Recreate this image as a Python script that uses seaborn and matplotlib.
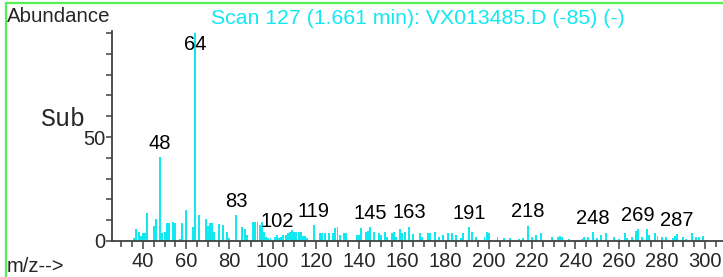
import matplotlib
matplotlib.use("Agg")
import matplotlib.pyplot as plt
from matplotlib.lines import Line2D
from matplotlib.ticker import MultipleLocator, FixedLocator
import seaborn as sns

# mass spectrum (m/z, relative abundance)
mz = [36, 37, 38, 39, 40, 41, 42, 45, 46, 48, 49, 50, 51, 52, 54, 55, 57, 58,
      60, 63, 64, 66, 69, 70, 71, 72, 73, 75, 77, 79, 80, 83, 86, 87, 88,
      91, 92, 93, 94, 95, 96, 97, 98, 99, 101, 102, 103, 104, 105, 106, 107,
      108, 109, 110, 111, 112, 113, 114, 115, 116, 119, 122, 123, 124, 126,
      128, 129, 130, 131, 133, 134, 139, 140, 141, 143, 144, 145, 147, 149,
      150, 152, 153, 155, 156, 157, 159, 160, 161, 163, 165, 168, 169, 172,
      173, 175, 177, 179, 181, 183, 185, 187, 188, 191, 192, 194, 198, 199,
      200, 204, 207, 210, 214, 216, 218, 220, 222, 224, 227, 229, 232, 233,
      234, 237, 241, 243, 244, 246, 248, 250, 252, 254, 258, 260, 263, 264,
      266, 268, 269, 271, 273, 274, 277, 278, 280, 282, 285, 286, 287, 290,
      291, 294, 296, 297, 299]
abundance = [1.3, 5.6, 4.4, 2.4, 3.7, 3.7, 13.7, 7.4, 10.5, 40.2, 3.9, 4.4, 8.8,
             8.6, 9.0, 8.8, 0.8, 8.8, 14.9, 6.9, 100.0, 12.5, 10.5, 7.0, 8.8,
             8.8, 4.3, 8.2, 7.5, 4.5, 1.3, 12.5, 6.8, 5.6, 3.0, 9.3, 9.3, 9.3,
             7.7, 9.3, 4.5, 2.1, 1.3, 1.3, 2.0, 2.9, 1.3, 2.0, 2.9, 2.9, 3.7,
             4.5, 5.3, 4.5, 4.5, 4.2, 4.5, 2.4, 2.4, 1.5, 7.7, 3.7, 3.7, 3.7,
             4.0, 4.0, 6.1, 6.7, 2.9, 4.0, 4.0, 2.9, 2.9, 6.1, 4.5, 5.0, 6.6,
             4.5, 4.0, 2.9, 4.5, 2.1, 3.7, 4.5, 2.1, 5.6, 3.7, 4.5, 6.9, 3.4,
             3.7, 2.1, 3.7, 3.7, 4.2, 2.1, 2.9, 3.7, 4.0, 2.9, 1.3, 3.7, 6.6,
             4.5, 2.1, 2.1, 4.5, 3.7, 2.1, 1.3, 1.3, 1.0, 1.3, 7.4, 1.8, 2.9,
             3.7, 0.5, 2.1, 2.1, 2.6, 2.1, 1.0, 0.5, 1.0, 1.8, 2.1, 4.4, 1.3,
             2.9, 3.9, 2.1, 1.0, 3.7, 1.3, 2.1, 5.0, 5.6, 2.1, 5.6, 2.9, 4.0,
             2.6, 2.1, 2.1, 1.3, 2.6, 3.4, 1.8, 1.0, 3.7, 2.1, 1.8, 2.6]

peak_labels = [48, 64, 83, 102, 119, 145, 163, 191, 218, 248, 269, 287]
x_ticks = [40, 60, 80, 100, 120, 140, 160, 180, 200, 220, 240, 260, 280, 300]
y_ticks = [0, 50]

title = "Scan 127 (1.661 min): VX013485.D (-85) (-)"
cyan = "#12e8f0"
axis_grey = "#404040"

sns.set_style("ticks")
plt.rcParams["font.family"] = ["Liberation Sans", "DejaVu Sans"]

fig = plt.figure(figsize=(7.23, 2.77), dpi=100)
ax = fig.add_axes([112 / 723, 36 / 277, (723 - 112) / 723, 210 / 277])

sns.barplot(x=mz, y=abundance, native_scale=True, width=0.9, saturation=1,
            color=cyan, linewidth=0, edgecolor=cyan, errorbar=None, ax=ax)

ax.set_xlim(25.7, 308.3)
ax.set_ylim(0, 101)
ax.set_xlabel("")
ax.set_ylabel("")

ax.xaxis.set_major_locator(FixedLocator(x_ticks))
ax.xaxis.set_minor_locator(MultipleLocator(5))
ax.yaxis.set_major_locator(FixedLocator(y_ticks))
ax.yaxis.set_minor_locator(MultipleLocator(10))
ax.tick_params(axis="both", which="major", labelsize=14.5, color=axis_grey,
               width=1.1, length=6, pad=2)
ax.tick_params(axis="both", which="minor", color=axis_grey, width=1.1, length=4)
ax.tick_params(axis="y", which="major", length=4, pad=1)

sns.despine(ax=ax)
for side in ["left", "bottom"]:
    ax.spines[side].set_color(axis_grey)
    ax.spines[side].set_linewidth(1.3)

lookup = dict(zip(mz, abundance))
for m in peak_labels:
    ax.annotate(str(m), xy=(m, min(lookup[m], 88)), xytext=(0, 3),
                textcoords="offset points", ha="center", va="bottom",
                fontsize=14.5, color="black")

fig.text(7 / 723, 1 - 17 / 277, "Abundance", fontsize=14.7, va="center", ha="left")
fig.text(418 / 723, 1 - 19 / 277, title, fontsize=15.3, color=cyan,
         va="center", ha="center")
fig.text(40 / 723, 1 - 119 / 277, "Sub", fontsize=18, va="center", ha="left",
         family=["Liberation Mono", "DejaVu Sans Mono"])
fig.text(7 / 723, 1 - 267 / 277, "m/z-->", fontsize=14.5, va="center", ha="left")

# green frame along top and left edges
green = "#55ee55"
fig.add_artist(Line2D([6 / 723, 1], [1 - 3 / 277, 1 - 3 / 277],
                      color=green, linewidth=1.6, transform=fig.transFigure))
fig.add_artist(Line2D([6 / 723, 6 / 723], [0, 1 - 3 / 277],
                      color=green, linewidth=1.6, transform=fig.transFigure))

fig.savefig("out.png", dpi=100)
